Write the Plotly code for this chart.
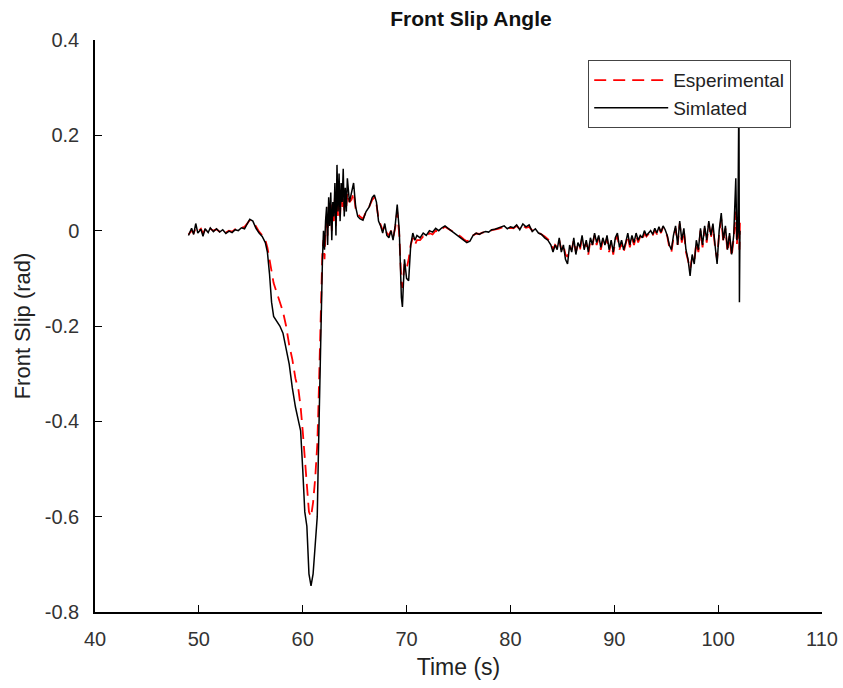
import plotly.graph_objects as go

time_s = [49.0, 49.3, 49.5, 49.7, 49.9, 50.2, 50.4, 50.6, 50.9, 51.1, 51.4, 51.7, 52.0, 52.3, 52.6, 52.9,
          53.2, 53.5, 53.8, 54.1, 54.4, 54.7, 54.9, 55.2, 55.5, 55.8, 56.1, 56.4, 56.6, 56.8, 57.0, 57.2,
          57.5, 57.8, 58.1, 58.4, 58.7, 59.0, 59.3, 59.6, 59.8, 60.0, 60.2, 60.4, 60.6, 60.8, 61.0, 61.2,
          61.4, 61.5, 61.65, 61.8, 61.9, 62.0, 62.1, 62.2, 62.3, 62.4, 62.5, 62.6, 62.7, 62.8, 62.9, 63.0,
          63.1, 63.2, 63.3, 63.4, 63.5, 63.6, 63.7, 63.8, 63.9, 64.0, 64.1, 64.2, 64.3, 64.5, 64.7, 64.9,
          65.1, 65.3, 65.5, 65.8, 66.1, 66.4, 66.7, 66.9, 67.1, 67.3, 67.5, 67.7, 67.9, 68.1, 68.3, 68.5,
          68.7, 68.9, 69.1, 69.3, 69.5, 69.6, 69.8, 70.0, 70.2, 70.4, 70.6, 70.8, 71.0, 71.3, 71.6, 71.9,
          72.2, 72.5, 72.8, 73.1, 73.4, 73.7, 74.0, 74.3, 74.6, 74.9, 75.2, 75.5, 75.8, 76.1, 76.4, 76.7,
          77.0, 77.3, 77.6, 77.9, 78.2, 78.5, 78.8, 79.1, 79.4, 79.7, 80.0, 80.3, 80.6, 80.9, 81.2, 81.5,
          81.8, 82.1, 82.4, 82.7, 83.0, 83.3, 83.6, 83.9, 84.1, 84.3, 84.5, 84.7, 84.9, 85.1, 85.3, 85.5,
          85.7, 85.9, 86.1, 86.3, 86.5, 86.7, 86.9, 87.1, 87.3, 87.5, 87.7, 87.9, 88.1, 88.3, 88.5, 88.7,
          88.9, 89.1, 89.3, 89.5, 89.7, 89.9, 90.1, 90.3, 90.5, 90.7, 90.9, 91.1, 91.3, 91.5, 91.7, 91.9,
          92.1, 92.3, 92.5, 92.7, 92.9, 93.1, 93.3, 93.5, 93.7, 93.9, 94.1, 94.3, 94.5, 94.7, 94.9, 95.1,
          95.3, 95.5, 95.7, 95.9, 96.1, 96.3, 96.5, 96.7, 96.9, 97.1, 97.3, 97.5, 97.7, 97.9, 98.1, 98.3,
          98.5, 98.7, 98.9, 99.1, 99.3, 99.5, 99.7, 99.9, 100.1, 100.3, 100.5, 100.7, 100.9, 101.1, 101.3,
          101.5, 101.7, 101.8, 101.9, 102.0, 102.05, 102.1]

simulated = [-0.010, 0.005, -0.008, 0.015, -0.005, 0.003, -0.012, 0.004, -0.004, 0.006, -0.002, 0.004,
             -0.003, 0.002, -0.006, -0.001, -0.004, 0.002, 0.000, 0.006, 0.004, 0.018, 0.024, 0.020,
             0.005, -0.005, -0.012, -0.025, -0.045, -0.090, -0.150, -0.180, -0.190, -0.200, -0.215,
             -0.250, -0.280, -0.330, -0.370, -0.400, -0.420, -0.500, -0.590, -0.620, -0.720, -0.745,
             -0.720, -0.660, -0.600, -0.480, -0.300, -0.150, -0.060, 0.000, -0.040, 0.020, 0.050,
             -0.030, 0.070, 0.010, 0.080, -0.020, 0.060, 0.030, 0.100, -0.010, 0.138, 0.040, 0.120,
             0.020, 0.100, 0.060, 0.130, 0.030, 0.090, 0.040, 0.110, 0.060, 0.080, 0.100, 0.050, 0.030,
             0.025, 0.022, 0.040, 0.050, 0.070, 0.075, 0.060, 0.020, 0.010, -0.005, 0.015, -0.010,
             -0.015, 0.000, -0.020, 0.010, 0.055, 0.000, -0.140, -0.160, -0.060, -0.100, -0.105,
             -0.030, -0.005, -0.020, -0.010, -0.015, -0.005, -0.010, 0.000, -0.003, 0.005, 0.000,
             0.006, 0.010, 0.005, 0.000, -0.005, -0.010, -0.015, -0.020, -0.025, -0.022, -0.010,
             -0.005, -0.008, -0.004, -0.002, -0.003, 0.002, 0.003, 0.005, 0.008, 0.010, 0.004, 0.008,
             0.006, 0.012, 0.002, 0.014, 0.008, 0.012, -0.002, 0.004, -0.005, -0.008, -0.015, -0.020,
             -0.030, -0.045, -0.030, -0.040, -0.015, -0.045, -0.030, -0.060, -0.070, -0.030, -0.045,
             -0.015, -0.050, -0.025, -0.035, -0.010, -0.040, -0.020, -0.045, -0.015, -0.030, -0.005,
             -0.025, -0.010, -0.035, -0.015, -0.030, -0.010, -0.040, -0.020, -0.045, -0.015, -0.005,
             -0.035, -0.020, -0.040, -0.025, -0.005, -0.030, -0.010, -0.025, -0.005, -0.020, -0.010,
             -0.015, 0.000, -0.010, -0.005, 0.000, -0.008, 0.005, -0.005, 0.008, -0.003, 0.010, 0.002,
             -0.010, -0.030, -0.040, -0.010, 0.010, -0.030, 0.020, -0.020, 0.005, -0.040, -0.060,
             -0.095, -0.050, -0.070, -0.020, -0.040, 0.005, -0.030, 0.010, -0.020, 0.020, -0.010,
             0.015, -0.030, -0.070, 0.000, 0.037, -0.020, 0.010, -0.040, -0.005, -0.050, -0.010,
             0.110, -0.020, 0.000, 0.300, -0.150, 0.000]

experimental = [-0.008, 0.000, -0.005, 0.005, -0.002, 0.004, -0.006, 0.002, -0.002, 0.004, 0.000, 0.003,
                -0.002, 0.003, -0.004, 0.000, -0.002, 0.003, 0.002, 0.006, 0.008, 0.018, 0.022, 0.020,
                0.008, -0.002, -0.010, -0.020, -0.035, -0.060, -0.090, -0.110, -0.130, -0.150, -0.170,
                -0.200, -0.240, -0.270, -0.310, -0.335, -0.370, -0.420, -0.480, -0.540, -0.590, -0.600,
                -0.570, -0.520, -0.450, -0.380, -0.250, -0.100, -0.040, -0.020, -0.060, 0.000, 0.030,
                -0.010, 0.050, 0.020, 0.060, 0.000, 0.050, 0.020, 0.070, 0.010, 0.090, 0.030, 0.080,
                0.030, 0.085, 0.050, 0.090, 0.040, 0.070, 0.050, 0.080, 0.060, 0.065, 0.080, 0.045,
                0.035, 0.030, 0.025, 0.040, 0.050, 0.065, 0.070, 0.055, 0.025, 0.010, 0.000, 0.010,
                -0.005, -0.010, 0.000, -0.015, 0.005, 0.040, -0.010, -0.110, -0.120, -0.070, -0.080,
                -0.060, -0.030, -0.015, -0.030, -0.020, -0.020, -0.012, -0.015, -0.005, -0.008, 0.000,
                -0.003, 0.004, 0.008, 0.004, 0.000, -0.004, -0.008, -0.012, -0.018, -0.022, -0.020,
                -0.010, -0.006, -0.007, -0.004, -0.003, -0.002, 0.001, 0.002, 0.004, 0.006, 0.008,
                0.005, 0.006, 0.005, 0.010, 0.003, 0.010, 0.006, 0.008, 0.000, 0.002, -0.004, -0.008,
                -0.012, -0.018, -0.025, -0.040, -0.030, -0.035, -0.020, -0.040, -0.030, -0.050, -0.055,
                -0.035, -0.040, -0.020, -0.045, -0.030, -0.040, -0.015, -0.035, -0.025, -0.050, -0.020,
                -0.030, -0.010, -0.030, -0.015, -0.040, -0.020, -0.030, -0.015, -0.045, -0.025, -0.050,
                -0.020, -0.010, -0.040, -0.025, -0.045, -0.025, -0.010, -0.035, -0.015, -0.030, -0.010,
                -0.025, -0.012, -0.020, -0.005, -0.012, -0.008, -0.002, -0.010, 0.002, -0.008, 0.005,
                -0.005, 0.008, 0.000, -0.012, -0.035, -0.045, -0.015, 0.005, -0.030, 0.015, -0.025,
                0.000, -0.045, -0.060, -0.080, -0.055, -0.065, -0.025, -0.045, 0.000, -0.035, 0.005,
                -0.025, 0.015, -0.015, 0.010, -0.035, -0.060, -0.005, 0.025, -0.025, 0.005, -0.045,
                -0.010, -0.055, -0.015, 0.040, -0.030, 0.010, 0.030, -0.040, 0.020]

x_ticks = [40, 50, 60, 70, 80, 90, 100, 110]
y_ticks = [-0.8, -0.6, -0.4, -0.2, 0, 0.2, 0.4]
y_tick_text = ["-0.8", "-0.6", "-0.4", "-0.2", "0", "0.2", "0.4"]

font_family = "Liberation Sans, Arial, sans-serif"

fig = go.Figure()
fig.add_trace(go.Scatter(x=time_s, y=experimental, mode="lines", name="Esperimental",
                         line=dict(color="#ff0000", width=1.8, dash="12px,7px")))
fig.add_trace(go.Scatter(x=time_s, y=simulated, mode="lines", name="Simlated",
                         line=dict(color="#000000", width=1.5)))

fig.update_layout(
    width=843, height=688,
    margin=dict(l=95, r=21, t=40, b=76, autoexpand=False),
    paper_bgcolor="white", plot_bgcolor="white",
    font=dict(family=font_family, color="#222222"),
    title=dict(text="<b>Front Slip Angle</b>", x=471 / 843, xanchor="center",
               y=1 - 19 / 688, yanchor="middle", font=dict(size=21, color="#111111")),
    showlegend=True,
    legend=dict(x=(588 - 95) / 727, y=(612 - 60) / 572, xanchor="left", yanchor="top",
                bgcolor="white", bordercolor="#444444", borderwidth=1.2,
                font=dict(size=19, color="#222222"), itemwidth=74, tracegroupgap=0,
                entrywidth=217, entrywidthmode="pixels"),
)
fig.update_xaxes(range=[40, 110], tickvals=x_ticks, ticks="inside", ticklen=7, tickwidth=1.2,
                 tickcolor="#000000", showline=True, linecolor="#000000", linewidth=1.5,
                 showgrid=False, zeroline=False, tickfont=dict(size=20, color="#333333"),
                 ticklabelstandoff=8, automargin=False,
                 title=dict(text="Time (s)", font=dict(size=23, color="#222222"), standoff=10))
fig.update_yaxes(range=[-0.8, 0.4], tickvals=y_ticks, ticktext=y_tick_text, ticks="inside",
                 ticklen=7, tickwidth=1.2, tickcolor="#000000", showline=True, linecolor="#000000",
                 linewidth=1.5, showgrid=False, zeroline=False, tickfont=dict(size=20, color="#333333"),
                 ticklabelstandoff=10, automargin=False,
                 title=dict(text="Front Slip (rad)", font=dict(size=22, color="#222222"), standoff=8))

fig.write_html("out.html")
